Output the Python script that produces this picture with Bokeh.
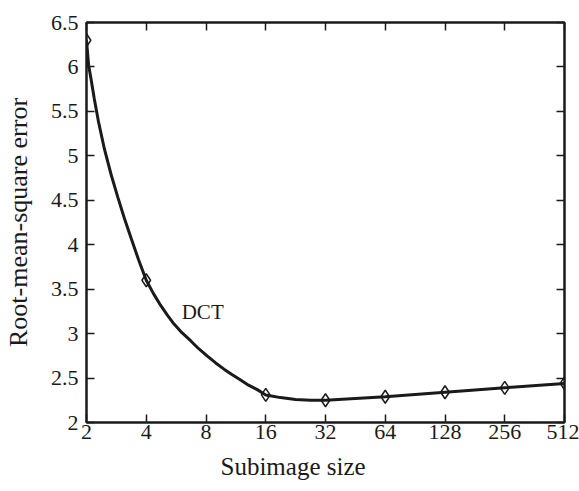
from bokeh.plotting import figure
from bokeh.models import FixedTicker, LinearAxis, LogAxis, Label, Title
from bokeh.embed import file_html
from bokeh.resources import INLINE

# Data
marker_size = [2, 4, 16, 32, 64, 128, 256, 512]
marker_rmse = [6.30, 3.60, 2.31, 2.25, 2.29, 2.34, 2.39, 2.44]

curve_size = [2, 2.05, 2.11, 2.19, 2.30, 2.46, 2.66, 2.88, 3.10, 3.36, 3.66, 4, 4.35, 4.72, 5.10, 5.51, 6.05,
              6.69, 7.35, 8.1, 8.95, 9.86, 10.8, 11.9, 13.1, 14.5, 16, 19.0, 22.6, 27.0, 32, 64, 128, 256, 512]
curve_rmse = [6.30, 6.02, 5.86, 5.64, 5.38, 5.08, 4.79, 4.53, 4.30, 4.07, 3.83, 3.60, 3.45, 3.32, 3.21, 3.11, 3.01,
              2.92, 2.83, 2.75, 2.67, 2.60, 2.54, 2.48, 2.42, 2.37, 2.31, 2.28, 2.26, 2.25, 2.25, 2.29, 2.34, 2.39, 2.44]

xtick_values = [2, 4, 8, 16, 32, 64, 128, 256, 512]
xtick_labels = ["2", "4", "8", "16", "32", "64", "128", "256", "512"]
ytick_values = [2, 2.5, 3, 3.5, 4, 4.5, 5, 5.5, 6, 6.5]
ytick_labels = ["2", "2.5", "3", "3.5", "4", "4.5", "5", "5.5", "6", "6.5"]

series_label = "DCT"
x_title = "Subimage size"
y_title = "Root-mean-square error"

FONT = "Liberation Serif"
INK = "#1a1a1a"

p = figure(width=579, height=491, x_axis_type="log", x_range=(2, 512), y_range=(2, 6.5),
           output_backend="svg", toolbar_location=None, tools="")
p.min_border_left = 86
p.min_border_right = 15
p.min_border_top = 22
p.min_border_bottom = 69
p.background_fill_color = "white"
p.border_fill_color = "white"
p.grid.visible = False
p.outline_line_color = INK
p.outline_line_width = 2

def style_axis(ax):
    ax.axis_line_color = INK
    ax.axis_line_width = 2
    ax.major_tick_line_color = INK
    ax.major_tick_line_width = 1.5
    ax.major_tick_in = 8
    ax.major_tick_out = 0
    ax.minor_tick_line_color = None
    ax.major_label_text_font = FONT
    ax.major_label_text_color = INK
    ax.major_label_text_font_size = "22px"

xa = p.xaxis[0]
xa.ticker = FixedTicker(ticks=xtick_values)
xa.major_label_overrides = {v: l for v, l in zip(xtick_values, xtick_labels)}
style_axis(xa)
xa.major_label_standoff = 2

ya = p.yaxis[0]
ya.ticker = FixedTicker(ticks=ytick_values)
ya.major_label_overrides = {v: l for v, l in zip(ytick_values, ytick_labels)}
style_axis(ya)
ya.major_label_standoff = 8
ya.axis_label = y_title
ya.axis_label_text_font = FONT
ya.axis_label_text_font_style = "normal"
ya.axis_label_text_font_size = "26px"
ya.axis_label_text_color = INK
ya.axis_label_standoff = 15

# mirrored tick marks on top and right, without labels
top = LogAxis(ticker=FixedTicker(ticks=xtick_values))
style_axis(top)
top.major_label_text_font_size = "1px"
top.major_label_text_alpha = 0
top.major_label_standoff = 0
top.major_label_overrides = {v: " " for v in xtick_values}
p.add_layout(top, "above")
right = LinearAxis(ticker=FixedTicker(ticks=ytick_values))
style_axis(right)
right.major_label_text_font_size = "1px"
right.major_label_text_alpha = 0
right.major_label_standoff = 0
right.major_label_overrides = {v: " " for v in ytick_values}
p.add_layout(right, "right")

xt = Title(text=x_title, align="left", offset=134, text_font=FONT, text_font_size="25px",
           text_font_style="normal", text_color=INK, standoff=18)
p.add_layout(xt, "below")

p.line(curve_size, curve_rmse, line_color=INK, line_width=3)
p.scatter(marker_size, marker_rmse, marker="diamond", size=13, fill_color=None,
          line_color=INK, line_width=1.5)

p.add_layout(Label(x=7.7, y=3.24, text=series_label, text_font=FONT, text_font_size="21px",
                   text_color=INK, text_align="center", text_baseline="middle"))

open("out.html", "w").write(file_html(p, INLINE))
